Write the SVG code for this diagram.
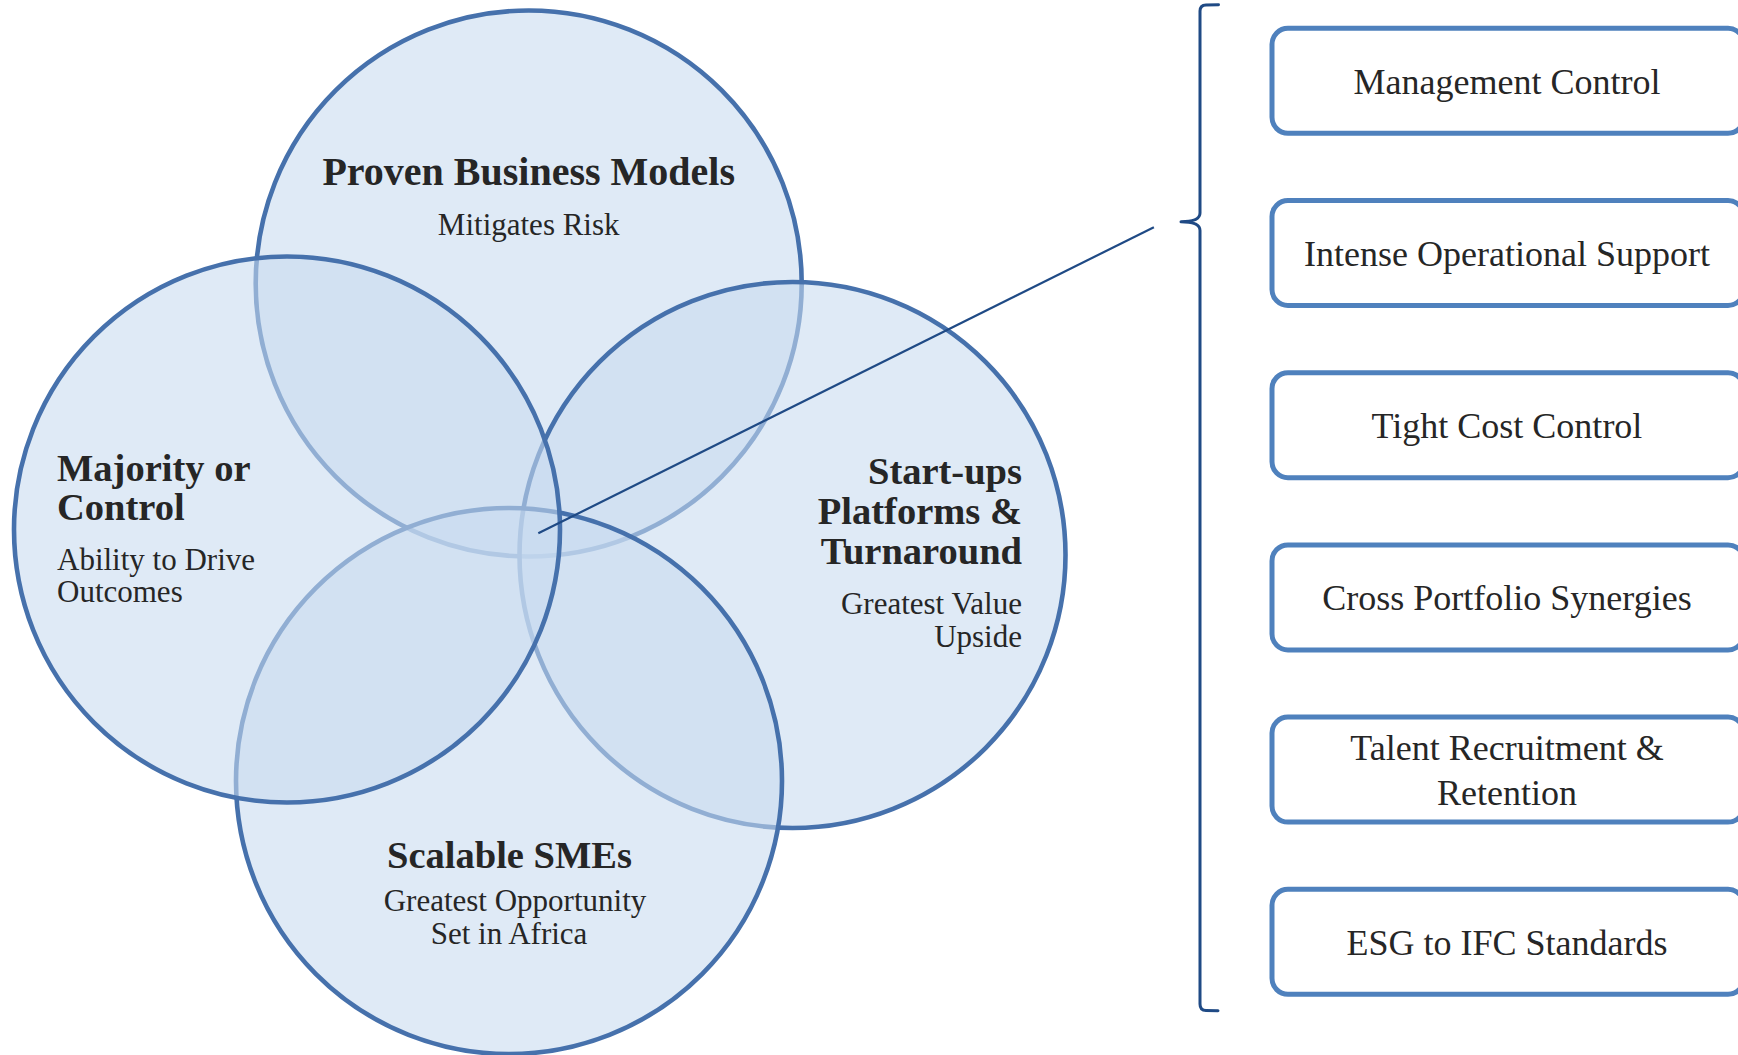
<svg xmlns="http://www.w3.org/2000/svg" width="1738" height="1055" viewBox="0 0 1738 1055">
  <style>
    .circ { fill: rgb(200,218,240); fill-opacity: 0.58; stroke: #4671AC; stroke-width: 4.6; }
    .box { fill: #ffffff; stroke: #4F81BD; stroke-width: 5; }
    .title { font-family: "Liberation Serif", "DejaVu Serif", serif; font-weight: bold; font-size: 38.5px; fill: #262626; }
    .sub { font-family: "Liberation Serif", "DejaVu Serif", serif; font-size: 31px; fill: #262626; }
    .btxt { font-family: "Liberation Serif", "DejaVu Serif", serif; font-size: 36px; fill: #262626; text-anchor: middle; }
    .conn { fill: none; stroke: #1F4A85; stroke-width: 2.2; }
    .brace { fill: none; stroke: #1F4A85; stroke-width: 3; stroke-linecap: round; stroke-linejoin: round; }
  </style>
  <rect x="0" y="0" width="1738" height="1055" fill="#ffffff"/>

  <g id="circle-proven">
    <circle class="circ" cx="528.7" cy="283.5" r="273"/>
  </g>
  <g id="circle-startups">
    <circle class="circ" cx="792.5" cy="555" r="273"/>
  </g>
  <g id="circle-smes">
    <circle class="circ" cx="509" cy="781" r="273"/>
  </g>
  <g id="circle-majority">
    <circle class="circ" cx="287" cy="529.5" r="273"/>
  </g>

  <g id="label-proven">
    <text class="title" x="528.7" y="185" text-anchor="middle" style="font-size:40px">Proven Business Models</text>
    <text class="sub" x="528.7" y="235" text-anchor="middle">Mitigates Risk</text>
  </g>
  <g id="label-majority">
    <text class="title" x="57" y="481">Majority or</text>
    <text class="title" x="57" y="520">Control</text>
    <text class="sub" x="57" y="570">Ability to Drive</text>
    <text class="sub" x="57" y="602">Outcomes</text>
  </g>
  <g id="label-startups">
    <text class="title" x="1022" y="484" text-anchor="end">Start-ups</text>
    <text class="title" x="1022" y="524" text-anchor="end">Platforms &amp;</text>
    <text class="title" x="1022" y="564" text-anchor="end">Turnaround</text>
    <text class="sub" x="1022" y="614" text-anchor="end">Greatest Value</text>
    <text class="sub" x="1022" y="647" text-anchor="end">Upside</text>
  </g>
  <g id="label-smes">
    <text class="title" x="509.5" y="868" text-anchor="middle">Scalable SMEs</text>
    <text class="sub" x="515" y="911" text-anchor="middle">Greatest Opportunity</text>
    <text class="sub" x="509" y="944" text-anchor="middle">Set in Africa</text>
  </g>

  <g id="connectors">
    <line class="conn" x1="538.3" y1="533.3" x2="1153.9" y2="227.2"/>
    <path class="brace" d="M1218.5,4.7 L1206,4.9 Q1200,5.2 1200,11 L1200,213 Q1200,221.7 1181,221.7 Q1200,221.7 1200,230.5 L1200,1004 Q1200,1010.5 1206,1010.6 L1218,1010.7"/>
  </g>

  <g id="box-management">
    <rect class="box" x="1272" y="28.3" width="472" height="105" rx="16"/>
    <text class="btxt" x="1507" y="93.5">Management Control</text>
  </g>
  <g id="box-operational">
    <rect class="box" x="1272" y="200.5" width="472" height="105" rx="16"/>
    <text class="btxt" x="1507" y="265.5">Intense Operational Support</text>
  </g>
  <g id="box-cost">
    <rect class="box" x="1272" y="372.7" width="472" height="105" rx="16"/>
    <text class="btxt" x="1507" y="438">Tight Cost Control</text>
  </g>
  <g id="box-synergies">
    <rect class="box" x="1272" y="544.9" width="472" height="105" rx="16"/>
    <text class="btxt" x="1507" y="609.5">Cross Portfolio Synergies</text>
  </g>
  <g id="box-talent">
    <rect class="box" x="1272" y="717.1" width="472" height="105" rx="16"/>
    <text class="btxt" x="1507" y="760">Talent Recruitment &amp;</text>
    <text class="btxt" x="1507" y="805">Retention</text>
  </g>
  <g id="box-esg">
    <rect class="box" x="1272" y="889.3" width="472" height="105" rx="16"/>
    <text class="btxt" x="1507" y="955">ESG to IFC Standards</text>
  </g>
</svg>
